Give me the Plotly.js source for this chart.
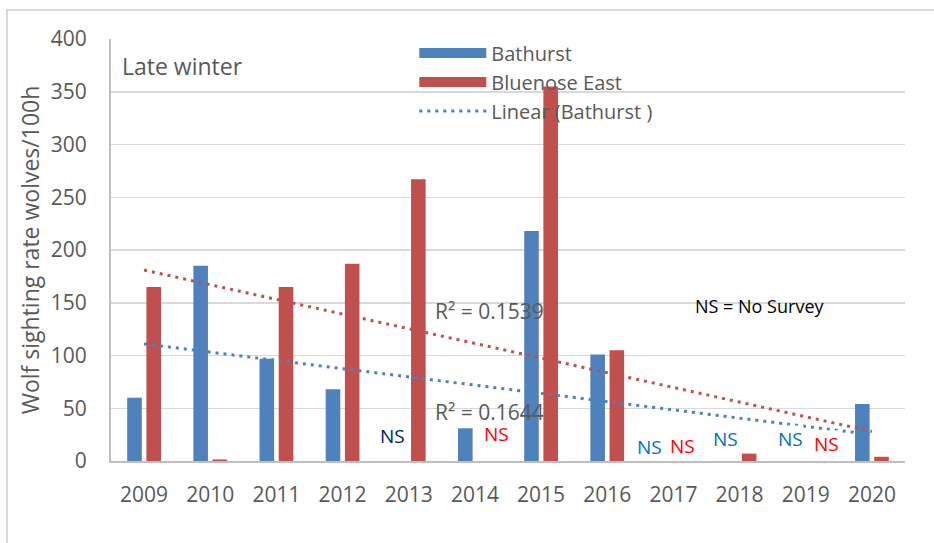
<!DOCTYPE html>
<html>
<head>
<meta charset="utf-8">
<script src="https://cdn.plot.ly/plotly-3.0.1.min.js"></script>
<style>
  html, body { margin: 0; padding: 0; background: #fff; }
  #chart { width: 934px; height: 543px; }
</style>
</head>
<body>
<div id="chart"></div>
<script>
// Wolf sighting rate, late winter surveys
var years = ['2009', '2010', '2011', '2012', '2013', '2014', '2015', '2016', '2017', '2018', '2019', '2020'];
var bathurst = [60, 185, 97, 68, null, 31, 218, 101, null, null, null, 54];
var bluenoseEast = [165, 1.5, 165, 187, 267, null, 355, 105, null, 7, null, 4];

// linear trend end points
var trendYears = ['2009', '2020'];
var bathurstTrend = [111, 25];
var bluenoseTrend = [181, 28];

// "no survey" labels: year, height, nudge left/right of the group, colour
var nsYears = ['2013', '2014', '2017', '2017', '2018', '2019', '2019'];
var nsLevels = [24, 26, 13, 14, 21, 21, 16];
var nsShift = [-16, 22, -24, 9, -14, -15, 21];
var nsColors = ['#002060', '#FF0000', '#0070C0', '#FF0000', '#0070C0', '#0070C0', '#FF0000'];

var FONT = 'Open Sans, sans-serif';
var GREY = '#595959';
var BLUE = '#4F81BD';
var RED = '#C0504D';

var traces = [
  {
    x: years, y: bathurst, name: 'Bathurst', type: 'bar',
    marker: {color: BLUE}, showlegend: false
  },
  {
    x: years, y: bluenoseEast, name: 'Bluenose East', type: 'bar',
    marker: {color: RED}, showlegend: false
  },
  // legend swatches drawn as wide bands, like the original
  {
    x: [years[0]], y: [null], name: 'Bathurst', type: 'scatter', mode: 'lines',
    line: {color: BLUE, width: 13}
  },
  {
    x: [years[0]], y: [null], name: 'Bluenose East', type: 'scatter', mode: 'lines',
    line: {color: RED, width: 13}
  },
  {
    x: trendYears, y: bathurstTrend, name: 'Linear (Bathurst )', type: 'scatter', mode: 'lines',
    line: {color: BLUE, width: 3, dash: '3px,5px'}
  },
  {
    x: trendYears, y: bluenoseTrend, name: 'Linear (Bluenose East)', type: 'scatter', mode: 'lines',
    line: {color: RED, width: 3, dash: '3px,5px'}, showlegend: false
  }
];

var notes = [
  {text: 'Late winter', xref: 'paper', yref: 'paper', x: 0.011, y: 0.936, xanchor: 'left', yanchor: 'middle',
   showarrow: false, font: {family: FONT, size: 23, color: GREY}},
  {text: 'R² = 0.1539', xref: 'paper', yref: 'y', x: 0.405, y: 142, xanchor: 'left', yanchor: 'middle',
   showarrow: false, font: {family: FONT, size: 21, color: GREY}},
  {text: 'R² = 0.1644', xref: 'paper', yref: 'y', x: 0.405, y: 46, xanchor: 'left', yanchor: 'middle',
   showarrow: false, font: {family: FONT, size: 21, color: GREY}},
  {text: 'NS = No Survey', xref: 'paper', yref: 'y', x: 0.733, y: 147, xanchor: 'left', yanchor: 'middle',
   showarrow: false, font: {family: FONT, size: 18, color: '#000000'}}
];
for (var i = 0; i < nsYears.length; i++) {
  notes.push({
    text: 'NS', xref: 'x', yref: 'y', x: years.indexOf(nsYears[i]), y: nsLevels[i], xshift: nsShift[i],
    xanchor: 'center', yanchor: 'middle', showarrow: false, bgcolor: '#ffffff', borderpad: 0,
    font: {family: FONT, size: 19, color: nsColors[i]}
  });
}

var layout = {
  width: 934, height: 543,
  margin: {l: 111, r: 29, t: 39, b: 82},
  paper_bgcolor: '#ffffff', plot_bgcolor: '#ffffff',
  font: {family: FONT, color: GREY},
  barmode: 'group', bargap: 0.42, bargroupgap: 0.24,
  showlegend: true,
  legend: {
    x: 0.382, y: 1.013, xanchor: 'left', yanchor: 'top',
    bgcolor: 'rgba(0,0,0,0)', font: {family: FONT, size: 20, color: GREY},
    itemwidth: 67, tracegroupgap: 0, traceorder: 'normal'
  },
  xaxis: {
    type: 'category', range: [-0.5, years.length - 0.5], autorange: false,
    showgrid: false, showline: true, linecolor: '#BFBFBF', linewidth: 2,
    ticks: '', ticklabelstandoff: 14, tickfont: {family: FONT, size: 21, color: GREY},
    zeroline: false, fixedrange: true
  },
  yaxis: {
    range: [0, 400], dtick: 50, showgrid: true, gridcolor: '#D9D9D9', gridwidth: 1.5,
    showline: true, linecolor: '#BFBFBF', linewidth: 2, zeroline: false,
    ticks: '', ticklabelstandoff: 18, tickfont: {family: FONT, size: 21, color: GREY},
    title: {text: 'Wolf sighting rate wolves/100h', font: {family: FONT, size: 23, color: GREY}, standoff: 5},
    fixedrange: true
  },
  shapes: [{
    type: 'rect', xref: 'paper', yref: 'paper', layer: 'below',
    x0: -0.131, x1: 1.05, y0: -0.3, y1: 1.069,
    line: {color: '#D9D9D9', width: 2}, fillcolor: 'rgba(0,0,0,0)'
  }],
  annotations: notes
};

Plotly.newPlot('chart', traces, layout, {displayModeBar: false, staticPlot: true});
</script>
</body>
</html>
